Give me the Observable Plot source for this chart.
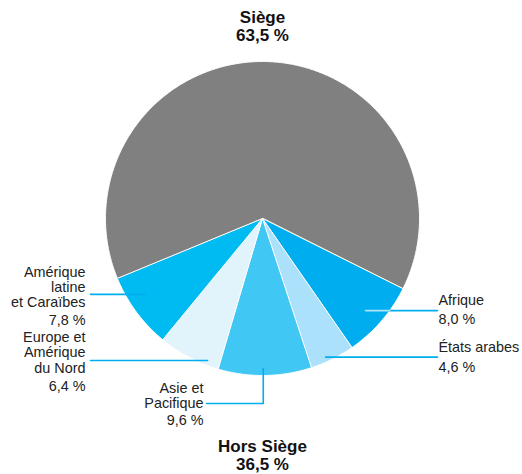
<!DOCTYPE html>
<html><head><meta charset="utf-8">
<script src="https://cdn.jsdelivr.net/npm/d3@7"></script>
<script src="https://cdn.jsdelivr.net/npm/@observablehq/plot@0.6"></script>
<style>body{margin:0;background:#fff}</style>
</head><body><div id="chart"></div>
<script>
// ---- data (clockwise order, starting just after the Siège slice) ----
const categories = ["Afrique", "États arabes", "Asie et Pacifique", "Europe et Amérique du Nord", "Amérique latine et Caraïbes", "Siège"];
const shares = [8.0, 4.6, 9.6, 6.4, 7.8, 63.5];
const nameLabels = ["Afrique", "États arabes", "Asie et\nPacifique", "Europe et\nAmérique\ndu Nord", "Amérique\nlatine\net Caraïbes", null];
const valueLabels = ["8,0 %", "4,6 %", "9,6 %", "6,4 %", "7,8 %", "63,5 %"];
const groups = ["Siège", "Hors Siège"];
const groupValueLabels = ["63,5 %", "36,5 %"];

// ---- styling / layout ----
const colors = ["#00aeef", "#abe1fa", "#40c7f4", "#e1f4fc", "#00bbf2", "#808080"];
const W = 522, H = 474, cx = 262, cy = 218, R = 157;
const start = 26.4; // screen degrees, clockwise from 3 o'clock
const font = "Liberation Sans, Arial, sans-serif";
const leaderColor = "#00aeef";
const layout = {
  "Afrique":                    {da: 1.0,  r: 0.88,  endX: 437, textX: 438, anchor: "start", nameDy: -10, valueDy: 9, inner: "#aee4fa"},
  "États arabes":               {da: 2.0,  r: 0.97,  endX: 437, textX: 438, anchor: "start", nameDy: -10, valueDy: 10},
  "Asie et Pacifique":          {da: 0.6,  r: 0.955, drop: 35, endX: 206, textX: 203, anchor: "end", nameDy: -8, valueDy: 17},
  "Europe et Amérique du Nord": {da: -6.8, r: 0.97,  endX: 90, textX: 85, anchor: "end", nameDy: -8, valueDy: 26},
  "Amérique latine et Caraïbes":{da: 3.6,  r: 0.89,  endX: 90, textX: 85, anchor: "end", nameDy: -7, valueDy: 26}
};

const rad = d => d * Math.PI / 180;
const total = d3.sum(shares);
let acc = start;
const slices = categories.map((c, i) => {
  const a0 = acc, a1 = acc + shares[i] / total * 360;
  acc = a1;
  return {cat: c, a0, a1, mid: (a0 + a1) / 2, i};
});

const slicePts = [];
for (const s of slices) {
  slicePts.push({cat: s.cat, x: cx, y: cy});
  const n = Math.ceil((s.a1 - s.a0) / 0.5);
  for (let k = 0; k <= n; k++) {
    const a = rad(s.a0 + (s.a1 - s.a0) * k / n);
    slicePts.push({cat: s.cat, x: cx + R * Math.cos(a), y: cy + R * Math.sin(a)});
  }
}

const leaderPts = [], innerPts = [], names = [], values = [];
for (const s of slices) {
  const L = layout[s.cat];
  if (!L) continue;
  const a = rad(s.mid + L.da);
  const x0 = cx + R * L.r * Math.cos(a), y0 = cy + R * L.r * Math.sin(a);
  leaderPts.push({cat: s.cat, x: x0, y: y0});
  let ly = y0;
  if (L.drop) { ly = y0 + L.drop; leaderPts.push({cat: s.cat, x: x0, y: ly}); }
  leaderPts.push({cat: s.cat, x: L.endX, y: ly});
  if (L.inner) {
    const xe = cx + Math.sign(L.endX - cx) * Math.sqrt(R * R - (ly - cy) ** 2);
    innerPts.push({cat: s.cat, x: x0, y: ly, c: L.inner}, {cat: s.cat, x: xe, y: ly, c: L.inner});
  }
  names.push({text: nameLabels[s.i], x: L.textX, y: ly + L.nameDy, anchor: L.anchor});
  values.push({text: valueLabels[s.i], x: L.textX, y: ly + L.valueDy, anchor: L.anchor});
}

const groupText = [
  {text: groups[0] + "\n" + groupValueLabels[0], x: cx, y: 26},
  {text: groups[1] + "\n" + groupValueLabels[1], x: cx, y: 455}
];

const txt = (data, anchor, extra) => Plot.text(data.filter(d => d.anchor === anchor), {
  x: "x", y: "y", text: "text", textAnchor: anchor, lineAnchor: "middle",
  fontSize: 14.4, fill: "#222", fontFamily: font, ...extra
});

const chart = Plot.plot({
  width: W, height: H, margin: 0,
  x: {type: "linear", domain: [0, W], range: [0, W], axis: null},
  y: {type: "linear", domain: [0, H], range: [0, H], axis: null},
  color: {domain: categories, range: colors},
  style: {fontFamily: font, background: "#fff"},
  marks: [
    Plot.line(slicePts, {x: "x", y: "y", z: "cat", fill: "cat", stroke: "#fff", strokeWidth: 1, curve: "linear-closed"}),
    Plot.line(leaderPts, {x: "x", y: "y", z: "cat", stroke: leaderColor, strokeWidth: 1.6, curve: "linear"}),
    Plot.line(innerPts, {x: "x", y: "y", z: "cat", stroke: d => d.c, strokeWidth: 1.6}),
    txt(names, "start", {lineHeight: 1.05}),
    txt(names, "end", {lineHeight: 1.05}),
    txt(values, "start", {}),
    txt(values, "end", {}),
    Plot.text(groupText, {x: "x", y: "y", text: "text", textAnchor: "middle", lineAnchor: "middle", fontSize: 17, fontWeight: "bold", lineHeight: 1.06, fill: "#111", fontFamily: font})
  ]
});
document.getElementById("chart").appendChild(chart);
</script>
</body></html>
